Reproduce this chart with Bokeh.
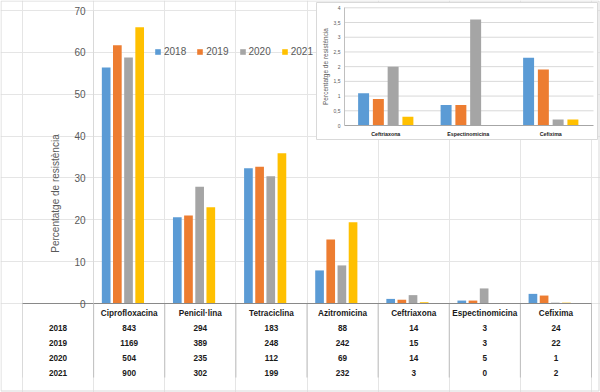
import math
from bokeh.plotting import figure
from bokeh.models import (Range1d, LinearAxis, FixedTicker, ColumnDataSource,
                          Legend, LegendItem, CustomJSTickFormatter)
from bokeh.transform import dodge
from bokeh.core.properties import value
from bokeh.embed import file_html
from bokeh.resources import INLINE

# ---------------- data ----------------
years = ["2018", "2019", "2020", "2021"]
colors = ["#5B9BD5", "#ED7D31", "#A5A5A5", "#FFC000"]
antibiotics = ["Ciprofloxacina", "Penicil·lina", "Tetraciclina", "Azitromicina",
               "Ceftriaxona", "Espectinomicina", "Cefixima"]
pct_2018 = [56.4, 20.6, 32.3, 7.9, 1.1, 0.7, 2.3]
pct_2019 = [61.7, 21.0, 32.7, 15.3, 0.9, 0.7, 1.9]
pct_2020 = [58.8, 27.9, 30.4, 9.1, 2.0, 3.6, 0.2]
pct_2021 = [66.0, 23.0, 35.9, 19.4, 0.3, 0.0, 0.2]
n_2018 = [843, 294, 183, 88, 14, 3, 24]
n_2019 = [1169, 389, 248, 242, 15, 3, 22]
n_2020 = [504, 235, 112, 69, 14, 5, 1]
n_2021 = [900, 302, 199, 232, 3, 0, 2]
inset_antibiotics = ["Ceftriaxona", "Espectinomicina", "Cefixima"]
main_ticks = [0, 10, 20, 30, 40, 50, 60, 70]
inset_ticks = [0, 0.5, 1, 1.5, 2, 2.5, 3, 3.5, 4]
y_title = "Percentatge de resistència"

pcts = [pct_2018, pct_2019, pct_2020, pct_2021]
counts = [n_2018, n_2019, n_2020, n_2021]

FONT = "Liberation Sans"
TXT = "#595959"
DARK = "#1A1A1A"
W, H = 600, 392

# layout helpers: pixel position -> data coordinate (for decoration placement only)
def mx(px): return (px - 22) / 71.125 - 1
def my(py): return (303 - py) / 4.18571
def ix(px): return (px - 344) / 82.5
def iy(py): return (125 - py) / 29.425

# ---------------- figure ----------------
p = figure(width=W, height=H, output_backend="svg", toolbar_location=None,
           x_range=Range1d(mx(0), mx(W)), y_range=Range1d(my(H), my(0)),
           x_axis_location=None, y_axis_location=None,
           min_border_left=0, min_border_right=0, min_border_top=0, min_border_bottom=0)
p.outline_line_color = None
p.background_fill_color = "white"

n_cat = len(antibiotics)

# outer chart border
p.quad(left=[mx(0.5)], right=[mx(598.5)], top=[my(0.5)], bottom=[my(390.5)],
       fill_color=None, line_color="#D9D9D9")

src = ColumnDataSource(dict(x=[i + 0.5 for i in range(n_cat)],
                            **{y: v for y, v in zip(years, pcts)}))
bar_w = 0.122
step = 0.157
shift = -0.088
renderers = []
for k, (yr, c) in enumerate(zip(years, colors)):
    r = p.vbar(x=dodge("x", shift + (k - 1.5) * step), top=yr, width=bar_w,
               source=src, fill_color=c, line_color=None)
    renderers.append(r)

# data table grid lines
tbl_bottom = my(377)
p.segment(x0=[-1], y0=[0], x1=[-1], y1=[tbl_bottom], line_color="#D9D9D9")
p.segment(x0=list(range(1, n_cat + 1)), y0=0, x1=list(range(1, n_cat + 1)), y1=tbl_bottom,
          line_color="#BFBFBF")
p.segment(x0=[0], y0=[0], x1=[0], y1=[tbl_bottom], line_color="#BFBFBF")

# main y axis at x=0
yax = LinearAxis(fixed_location=0, bounds=(0, 70), ticker=FixedTicker(ticks=main_ticks),
                 axis_line_color="#D9D9D9", major_tick_line_color=None,
                 major_tick_out=0, major_tick_in=0,
                 minor_tick_line_color=None, major_label_standoff=8,
                 major_label_text_font=FONT, major_label_text_font_size="10px",
                 major_label_text_color=TXT)
p.add_layout(yax, "left")

# main x axis (table header) at y=0
xax = LinearAxis(fixed_location=0, bounds=(-1, 7),
                 ticker=FixedTicker(ticks=[i + 0.5 for i in range(n_cat)]),
                 major_label_overrides={i + 0.5: a for i, a in enumerate(antibiotics)},
                 axis_line_color="#898989", major_tick_line_color=None,
                 major_tick_out=0, major_tick_in=0,
                 minor_tick_line_color=None, major_label_standoff=5,
                 major_label_text_font=FONT, major_label_text_font_size="8.2px",
                 major_label_text_font_style="bold", major_label_text_color=DARK)
p.add_layout(xax, "below")

# y title
p.text(x=[mx(55)], y=[my(193)], text=[y_title], angle=math.pi / 2,
       text_align="center", text_baseline="middle", text_font=value(FONT),
       text_font_size="10px", text_color=TXT)

# data table text
row_y = [my(327), my(342), my(357), my(372)]
p.text(x=[-0.5] * 4, y=row_y, text=years, text_align="center", text_baseline="middle",
       text_font=value(FONT), text_font_size="8.2px", text_font_style="bold",
       text_color=DARK)
for k, cnt in enumerate(counts):
    p.text(x=[i + 0.5 for i in range(n_cat)], y=[row_y[k]] * n_cat,
           text=[str(v) for v in cnt], text_align="center", text_baseline="middle",
           text_font=value(FONT), text_font_size="8.2px", text_font_style="bold",
           text_color=DARK)

# legend
legend = Legend(items=[LegendItem(label=y, renderers=[r]) for y, r in zip(years, renderers)],
                orientation="horizontal", location=(154, 335),
                glyph_width=7, glyph_height=7, label_height=10, label_standoff=3,
                spacing=10, padding=0, margin=0, border_line_color=None,
                background_fill_alpha=0, label_text_font=FONT,
                label_text_font_size="10px", label_text_color=TXT)
p.add_layout(legend, "center")

# ---------------- inset ----------------
p.extra_x_ranges = {"ix": Range1d(ix(0), ix(W))}
p.extra_y_ranges = {"iy": Range1d(iy(H), iy(0))}
p.quad(left=[ix(316)], right=[ix(597)], bottom=[iy(139)], top=[iy(2)],
       fill_color="white", line_color="#D9D9D9", x_range_name="ix", y_range_name="iy")
p.segment(x0=0, x1=ix(593), y0=inset_ticks[1:], y1=inset_ticks[1:], line_color="#D9D9D9",
          x_range_name="ix", y_range_name="iy")

isrc = ColumnDataSource(dict(x=[j + 0.5 for j in range(3)],
                             **{y: v[4:7] for y, v in zip(years, pcts)}))
for k, (yr, c) in enumerate(zip(years, colors)):
    p.vbar(x=dodge("x", (k - 1.5) * 0.179), top=yr, width=0.133, source=isrc,
           fill_color=c, line_color=None, x_range_name="ix", y_range_name="iy")

iyax = LinearAxis(x_range_name="ix", y_range_name="iy", fixed_location=0, bounds=(0, 4),
                  ticker=FixedTicker(ticks=inset_ticks),
                  formatter=CustomJSTickFormatter(code="return tick.toString().replace('.', ',')"),
                  axis_line_color="#BFBFBF", major_tick_line_color=None,
                  major_tick_out=0, major_tick_in=0,
                  minor_tick_line_color=None, major_label_standoff=4,
                  major_label_text_font=FONT, major_label_text_font_size="5px",
                  major_label_text_color=TXT, axis_label=y_title,
                  axis_label_text_font=FONT, axis_label_text_font_size="6.5px",
                  axis_label_text_font_style="normal", axis_label_text_color=TXT,
                  axis_label_standoff=2)
p.add_layout(iyax, "left")

ixax = LinearAxis(x_range_name="ix", y_range_name="iy", fixed_location=0,
                  bounds=(0, ix(593)),
                  ticker=FixedTicker(ticks=[j + 0.5 for j in range(3)]),
                  major_label_overrides={j + 0.5: a for j, a in enumerate(inset_antibiotics)},
                  axis_line_color="#A6A6A6", major_tick_line_color=None,
                  major_tick_out=0, major_tick_in=0,
                  minor_tick_line_color=None, major_label_standoff=5,
                  major_label_text_font=FONT, major_label_text_font_size="5.3px",
                  major_label_text_font_style="bold", major_label_text_color=DARK)
p.add_layout(ixax, "below")

open("out.html", "w").write(file_html(p, INLINE))
